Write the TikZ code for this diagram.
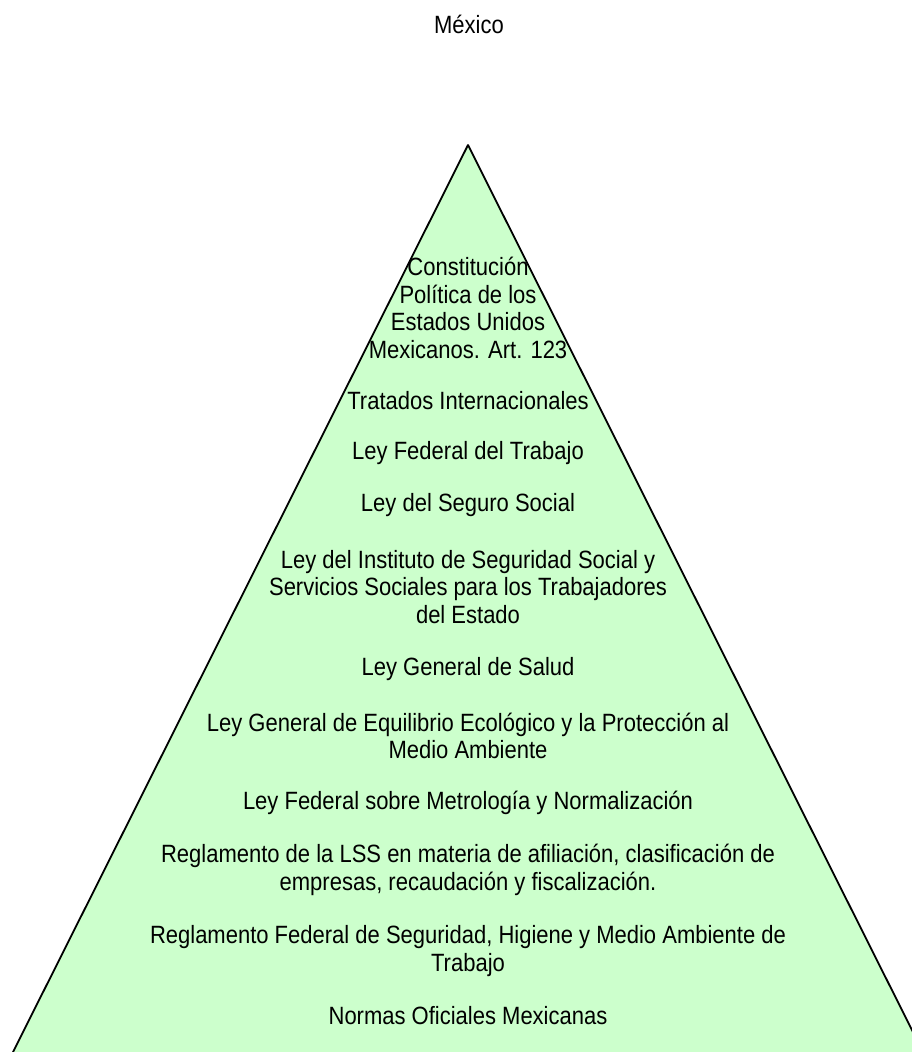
\documentclass[tikz,border=0pt]{standalone}
\usepackage{fontspec}
\setmainfont{Liberation Sans}[FakeStretch=0.88]
\usetikzlibrary{positioning}
\definecolor{pirverde}{RGB}{204,255,204}

\begin{document}
\begin{tikzpicture}[x=1bp, y=-1bp, nivel/.style={align=center, inner sep=0pt, font=\fontsize{25bp}{27.5bp}\selectfont}]
  \useasboundingbox (0,0) rectangle (912,1052);
  \clip (0,0) rectangle (912,1052);

  \node[nivel] (mex) at (469,24) {México};

  % piramide
  \filldraw[fill=pirverde, draw=black, line width=1.8bp, line join=round] (468,145) -- (9,1060) -- (927,1060) -- cycle;

  \node[nivel] (const) at (468,308) {Constitución\\Política de los\\Estados Unidos\\Mexicanos. Art. 123};
  \node[nivel] (trat) at (468,401) {Tratados Internacionales};
  \node[nivel] (lft) at (468,453) {Ley Federal del Trabajo};
  \node[nivel] (lss) at (468,505) {Ley del Seguro Social};
  \node[nivel] (issste) at (468,587) {Ley del Instituto de Seguridad Social y\\Servicios Sociales para los Trabajadores\\del Estado};
  \node[nivel] (lgs) at (468,669) {Ley General de Salud};
  \node[nivel] (lgeepa) at (468,736) {Ley General de Equilibrio Ecológico y la Protección al\\Medio Ambiente};
  \node[nivel] (lfmn) at (468,803) {Ley Federal sobre Metrología y Normalización};
  \node[nivel] (rlss) at (468,870) {Reglamento de la LSS en materia de afiliación, clasificación de\\empresas, recaudación y fiscalización.};
  \node[nivel] (rfsh) at (468,951) {Reglamento Federal de Seguridad, Higiene y Medio Ambiente de\\Trabajo};
  \node[nivel] (nom) at (468,1016) {Normas Oficiales Mexicanas};
\end{tikzpicture}
\end{document}
